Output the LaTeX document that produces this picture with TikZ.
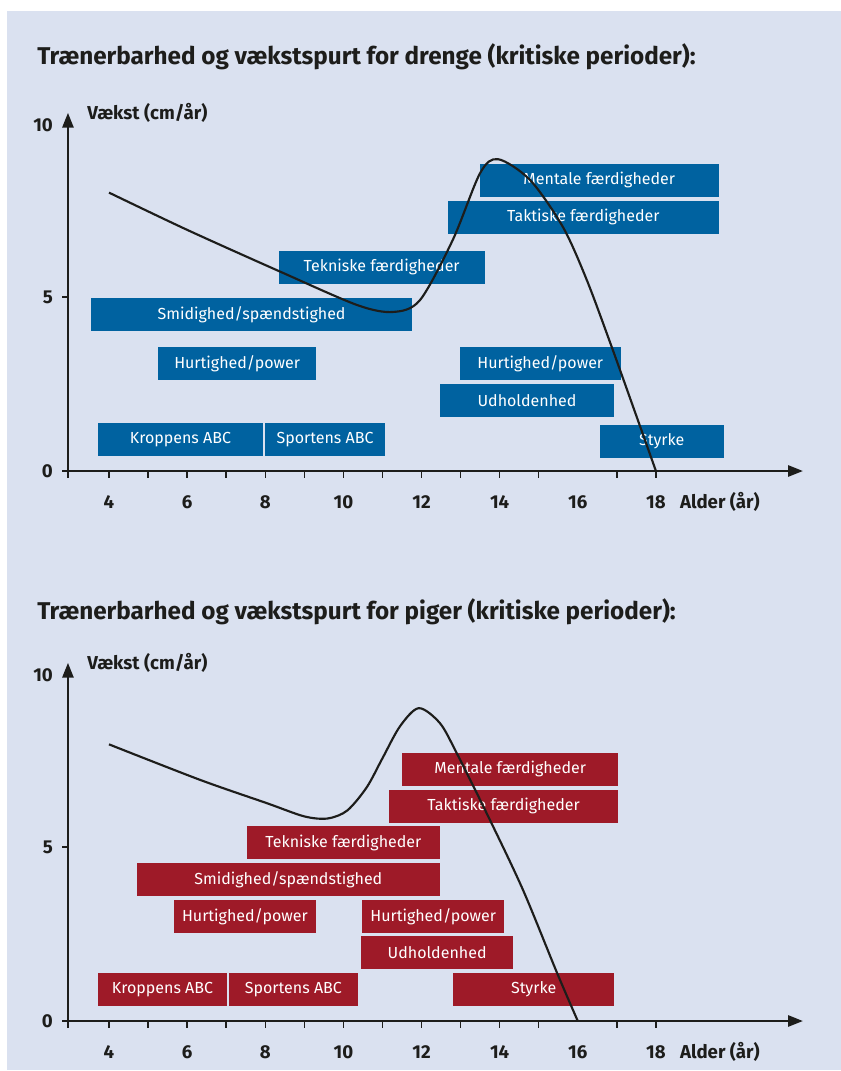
\documentclass[tikz,border=0pt]{standalone}
\usepackage{fontspec}
\setmainfont{Fira Sans}
\usetikzlibrary{arrows.meta}

\definecolor{panelblue}{RGB}{218,225,240}
\definecolor{boyblue}{RGB}{0,98,160}
\definecolor{girlred}{RGB}{158,26,40}
\definecolor{ink}{RGB}{29,29,27}

\begin{document}
\begin{tikzpicture}[x=0.75pt, y=-0.75pt,
  axis/.style={ink, line width=1.1pt, -{Triangle[length=11pt, width=8.5pt]}},
  tick/.style={ink, line width=1.1pt},
  growth/.style={ink, line width=1.6pt},
  boybar/.style={fill=boyblue, text=white, inner sep=0pt, minimum height=24.5pt, font=\fontsize{12}{14}\selectfont},
  girlbar/.style={boybar, fill=girlred},
  title/.style={ink, anchor=base west, inner sep=0pt, font=\fontsize{18.2}{21}\selectfont\bfseries},
  lbl/.style={ink, inner sep=0pt, font=\fontsize{14}{16}\selectfont\bfseries}]

\useasboundingbox (0,0) rectangle (841,1071);
\fill[white] (0,0) rectangle (841,1071);
\fill[panelblue] (7,11) rectangle (841,1070);

\node[title] (titleboys) at (37,64) {Trænerbarhed og vækstspurt for drenge (kritiske perioder):};
\node[title] (titlegirls) at (37,619) {Trænerbarhed og vækstspurt for piger (kritiske perioder):};

% drenge
\begin{scope}[shift={(-47.28,471)}, x=29.30pt, y=26.1pt]
\node[boybar, minimum width=6.11*29.3pt] (bmental) at (16.55,8.35) {Mentale færdigheder};
\node[boybar, minimum width=6.93*29.3pt] (btaktik) at (16.14,7.29) {Taktiske færdigheder};
\node[boybar, minimum width=5.27*29.3pt] (bteknik) at (10.98,5.85) {Tekniske færdigheder};
\node[boybar, minimum width=8.22*29.3pt] (bsmidig) at (7.65,4.50) {Smidighed/spændstighed};
\node[boybar, minimum width=4.04*29.3pt] (bhurtig) at (7.28,3.09) {Hurtighed/power};
\node[boybar, minimum width=4.12*29.3pt] (bhurtigto) at (15.04,3.09) {Hurtighed/power};
\node[boybar, minimum width=4.45*29.3pt] (budhold) at (14.70,2.03) {Udholdenhed};
\node[boybar, minimum width=3.17*29.3pt] (bstyrke) at (18.15,0.85) {Styrke};
\node[boybar, minimum width=4.22*29.3pt] (bkrop) at (5.83,0.91) {Kroppens ABC};
\node[boybar, minimum width=3.07*29.3pt] (bsport) at (9.53,0.91) {Sportens ABC};

\draw[axis] (2.95,0) -- (21.76,0);
\draw[axis] (2.95,-0.2) -- (2.95,10.29);
\foreach \a in {4,5,...,15,17,18}
  \draw[tick] (\a,0) -- (\a,-0.2);
\foreach \v in {0,5}
  \draw[tick] (2.95,\v) -- (2.8,\v);
\foreach \a in {4,6,...,18}
  \node[lbl, anchor=base] (bx\a) at (\a,-1.07) {\a};
\foreach \v/\t in {0/0,5/5,9.95/10}
  \node[lbl, anchor=east] (by\t) at (2.57,\v) {\t};
\node[lbl, anchor=base west] (bylabel) at (3.44,10.11) {Vækst (cm/år)};
\node[lbl, anchor=base west] (bxlabel) at (18.61,-1.07) {Alder (år)};

\draw[growth] plot[smooth] coordinates {(4,8) (6,6.93) (8.4,5.72) (10.35,4.77) (11.27,4.57) (11.96,4.91) (12.8,6.64) (13.5,8.56) (13.96,8.96) (14.78,8.36) (15.62,7.01) (16.23,5.49) (16.87,3.56) (17.51,1.55) (18,0)};
\end{scope}

% piger
\begin{scope}[shift={(-47.28,1021)}, x=29.30pt, y=26.1pt]
\node[girlbar, minimum width=5.53*29.3pt] (gmental) at (14.27,7.23) {Mentale færdigheder};
\node[girlbar, minimum width=5.86*29.3pt] (gtaktik) at (14.10,6.17) {Taktiske færdigheder};
\node[girlbar, minimum width=4.94*29.3pt] (gteknik) at (10.00,5.13) {Tekniske færdigheder};
\node[girlbar, minimum width=7.75*29.3pt] (gsmidig) at (8.59,4.07) {Smidighed/spændstighed};
\node[girlbar, minimum width=3.63*29.3pt] (ghurtig) at (7.48,3.01) {Hurtighed/power};
\node[girlbar, minimum width=3.63*29.3pt] (ghurtigto) at (12.30,3.01) {Hurtighed/power};
\node[girlbar, minimum width=3.89*29.3pt] (gudhold) at (12.40,1.97) {Udholdenhed};
\node[girlbar, minimum width=4.12*29.3pt] (gstyrke) at (14.87,0.91) {Styrke};
\node[girlbar, minimum width=3.30*29.3pt] (gkrop) at (5.37,0.91) {Kroppens ABC};
\node[girlbar, minimum width=3.30*29.3pt] (gsport) at (8.72,0.91) {Sportens ABC};

\draw[axis] (2.95,0) -- (21.76,0);
\draw[axis] (2.95,-0.2) -- (2.95,10.29);
\foreach \a in {4,5,...,15,17,18}
  \draw[tick] (\a,0) -- (\a,-0.2);
\foreach \v in {0,5}
  \draw[tick] (2.95,\v) -- (2.8,\v);
\foreach \a in {4,6,...,18}
  \node[lbl, anchor=base] (gx\a) at (\a,-1.07) {\a};
\foreach \v/\t in {0/0,5/5,9.95/10}
  \node[lbl, anchor=east] (gy\t) at (2.57,\v) {\t};
\node[lbl, anchor=base west] (gylabel) at (3.44,10.11) {Vækst (cm/år)};
\node[lbl, anchor=base west] (gxlabel) at (18.61,-1.07) {Alder (år)};

\draw[growth] plot[smooth] coordinates {(4,7.95) (6.33,6.93) (8.04,6.26) (9.0,5.88) (9.6,5.82) (10.1,6.05) (10.6,6.72) (11.0,7.55) (11.45,8.47) (11.93,8.99) (12.47,8.56) (12.9,7.7) (13.75,5.78) (14.6,3.76) (15.47,1.38) (16,0)};
\end{scope}
\end{tikzpicture}
\end{document}
